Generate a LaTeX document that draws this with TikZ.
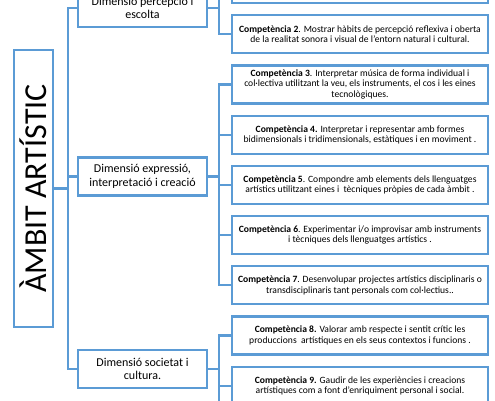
\documentclass[tikz,border=0pt]{standalone}
\usepackage{fontspec}
\setmainfont{Carlito}
\definecolor{myblue}{HTML}{5B9BD5}
\usetikzlibrary{positioning}
\tikzset{
	defaultnode/.style={
			rectangle,
			draw=myblue,
			line width=2.2pt,
			fill=white,
			inner sep=0pt,
			align=center
		},
	rootnode/.style={
			defaultnode,
			minimum width=39pt,
			minimum height=277pt
		},
	dimnode/.style={
			defaultnode,
			minimum width=129pt,
			minimum height=38pt,
			font=\fontsize{12}{13.5}\selectfont
		},
	compnode/.style={
			defaultnode,
			minimum width=256pt,
			minimum height=38pt,
			font=\fontsize{9.6}{10.4}\selectfont
		},
	linkline/.style={
			draw=myblue,
			line width=2.2pt
		}
}

\begin{document}
\begin{tikzpicture}[x=1pt, y=-1pt]
				\useasboundingbox (0,0) rectangle (495,400);
				\clip (0,0) rectangle (495,400);
				\node[rootnode] at (33.5,188.5) (root) {};
				\node[rotate=90, font=\fontsize{32}{36}\selectfont] at (root.center) (roottext) {ÀMBIT ARTÍSTIC};
				\node[dimnode] at (142.5,8) (dim1) {Dimensió percepció i\\escolta};
				\node[dimnode] at (142.5,176.5) (dim2) {Dimensió expressió,\\interpretació i creació};
				\node[dimnode] at (142.5,369) (dim3) {Dimensió societat i\\cultura.};
				\node[compnode] at (360,-16) (c1) {};
				\node[compnode, below=10pt of c1] (c2) {\textbf{Competència 2}. Mostrar hàbits de percepció reflexiva i oberta\\de la realitat sonora i visual de l’entorn natural i cultural.};
				\node[compnode, below=10pt of c2] (c3) {\textbf{Competència 3}. Interpretar música de forma individual i\\col·lectiva utilitzant la veu, els instruments, el cos i les eines\\tecnològiques.};
				\node[compnode, below=10pt of c3] (c4) {\textbf{Competència 4.} Interpretar i representar amb formes\\bidimensionals i tridimensionals, estàtiques i en moviment .};
				\node[compnode, below=10pt of c4] (c5) {\textbf{Competència 5}. Compondre amb elements dels llenguatges\\artístics utilitzant eines i \ tècniques pròpies de cada àmbit .};
				\node[compnode, below=10pt of c5] (c6) {\textbf{Competència 6}. Experimentar i/o improvisar amb instruments\\i tècniques dels llenguatges artístics .};
				\node[compnode, below=10pt of c6] (c7) {\textbf{Competència 7}. Desenvolupar projectes artístics disciplinaris o\\transdisciplinaris tant personals com col·lectius..};
				\node[compnode, below=10pt of c7] (c8) {\textbf{Competència 8.} Valorar amb respecte i sentit crític les\\produccions \ artístiques en els seus contextos i funcions .};
				\node[compnode, below=10pt of c8] (c9) {\textbf{Competència 9.} Gaudir de les experiències i creacions\\artístiques com a font d’enriquiment personal i social.};
				\node[compnode, below=10pt of c9] (c10) {};
				% root to dimensions
				\foreach \d in {dim1,dim2,dim3}
					\draw[linkline] (root.east) -- ++(14,0) |- (\d.west);
				% dimensions to competences
				\foreach \c in {c1,c2}
					\draw[linkline] (dim1.east) -- ++(11,0) |- (\c.west);
				\foreach \c in {c3,c4,c5,c6,c7}
					\draw[linkline] (dim2.east) -- ++(11,0) |- (\c.west);
				\foreach \c in {c8,c9,c10}
					\draw[linkline] (dim3.east) -- ++(11,0) |- (\c.west);
			\end{tikzpicture}
\end{document}
